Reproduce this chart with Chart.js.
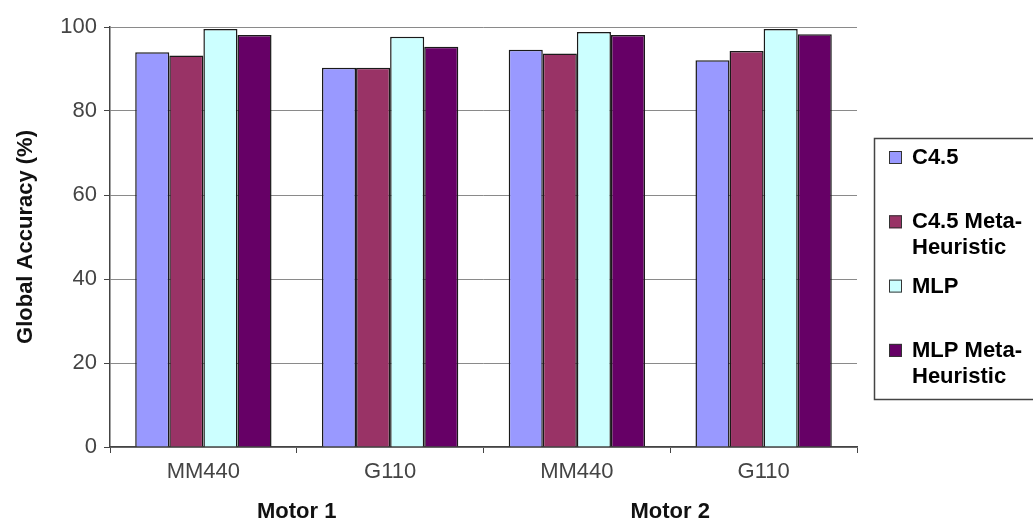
<!DOCTYPE html>
<html>
<head>
<meta charset="utf-8">
<script src="https://cdn.jsdelivr.net/npm/chart.js@4.4.1/dist/chart.umd.min.js"></script>
<style>
  html, body { margin: 0; padding: 0; background: #ffffff; }
  #wrap { width: 1033px; height: 523px; position: relative; }
</style>
</head>
<body>
<div id="wrap"><canvas id="chart" width="1033" height="523"></canvas></div>
<script>
// Drive models per motor
const categories = ['MM440', 'G110', 'MM440', 'G110'];
const motorGroups = ['Motor 1', 'Motor 2'];
const yTicks = [0, 20, 40, 60, 80, 100];

// Global accuracy (%) per classifier
const seriesNames = ['C4.5', 'C4.5 Meta-Heuristic', 'MLP', 'MLP Meta-Heuristic'];
const c45 = [94.0, 90.3, 94.6, 92.1];
const c45Meta = [93.2, 90.3, 93.7, 94.3];
const mlp = [99.5, 97.7, 98.8, 99.5];
const mlpMeta = [98.1, 95.3, 98.1, 98.3];

const seriesValues = [c45, c45Meta, mlp, mlpMeta];
const seriesColors = ['#9999ff', '#993366', '#ccffff', '#660066'];

const FONT = "'Liberation Sans', Arial, sans-serif";

// Boxed legend on the right, with wrapped two-line names
const boxedLegend = {
  id: 'boxedLegend',
  afterDraw(chart) {
    const ctx = chart.ctx;
    const left = chart.chartArea.right + 17;
    const top = 138;
    const boxH = 261;
    ctx.save();
    ctx.strokeStyle = '#444444';
    ctx.lineWidth = 1.5;
    ctx.strokeRect(left + 0.5, top + 0.5, 200, boxH);
    ctx.font = 'bold 22px ' + FONT;
    ctx.textBaseline = 'middle';
    ctx.textAlign = 'left';
    const step = 64.3;
    chart.data.datasets.forEach((ds, i) => {
      const cy = top + 19 + i * step;
      ctx.fillStyle = ds.backgroundColor;
      ctx.fillRect(left + 15, cy - 6, 13, 13);
      ctx.strokeStyle = '#333333';
      ctx.lineWidth = 1;
      ctx.strokeRect(left + 15.5, cy - 5.5, 12, 12);
      ctx.fillStyle = '#000000';
      const lines = ds.label.replace('Meta-', 'Meta-\n').split('\n');
      lines.forEach((ln, k) => ctx.fillText(ln.trim(), left + 38, cy + 1 + k * 26));
    });
    ctx.restore();
  }
};

new Chart(document.getElementById('chart'), {
  type: 'bar',
  data: {
    labels: categories,
    datasets: seriesNames.map((name, i) => ({
      label: name,
      data: seriesValues[i],
      backgroundColor: seriesColors[i],
      borderColor: '#1a1a1a',
      borderWidth: 1.5,
      categoryPercentage: 0.73,
      barPercentage: 1.0,
      xAxisID: 'x'
    }))
  },
  options: {
    responsive: false,
    animation: false,
    layout: { padding: { top: 27, right: 176, bottom: 0, left: 0 } },
    plugins: {
      legend: { display: false },
      tooltip: { enabled: false }
    },
    scales: {
      x: {
        type: 'category',
        position: 'bottom',
        offset: true,
        grid: {
          offset: true,
          drawOnChartArea: false,
          drawTicks: true,
          tickLength: 6,
          color: '#444444',
          lineWidth: 1
        },
        border: { display: true, color: '#444444', width: 1.5 },
        ticks: {
          color: '#444444',
          font: { family: FONT, size: 22 },
          padding: 6,
          maxRotation: 0
        },
        afterFit(scale) { scale.height = 36; }
      },
      x2: {
        type: 'category',
        position: 'bottom',
        labels: motorGroups,
        offset: true,
        grid: { display: false, drawTicks: false },
        border: { display: false },
        ticks: {
          color: '#111111',
          font: { family: FONT, size: 22, weight: 'bold' },
          padding: 16,
          maxRotation: 0
        },
        afterFit(scale) { scale.height = 40; }
      },
      y: {
        min: 0,
        max: 100,
        afterBuildTicks(scale) { scale.ticks = yTicks.map(v => ({ value: v })); },
        grid: {
          color: '#8a8a8a',
          lineWidth: 1,
          tickLength: 6,
          tickColor: '#444444'
        },
        border: { display: true, color: '#444444', width: 1.5 },
        ticks: {
          color: '#444444',
          font: { family: FONT, size: 22 },
          padding: 7
        },
        title: {
          display: true,
          text: 'Global Accuracy (%)',
          color: '#111111',
          font: { family: FONT, size: 22, weight: 'bold' },
          padding: { top: 13, bottom: 0 }
        },
        afterFit(scale) { scale.width = 110; }
      }
    }
  },
  plugins: [boxedLegend]
});
</script>
</body>
</html>
